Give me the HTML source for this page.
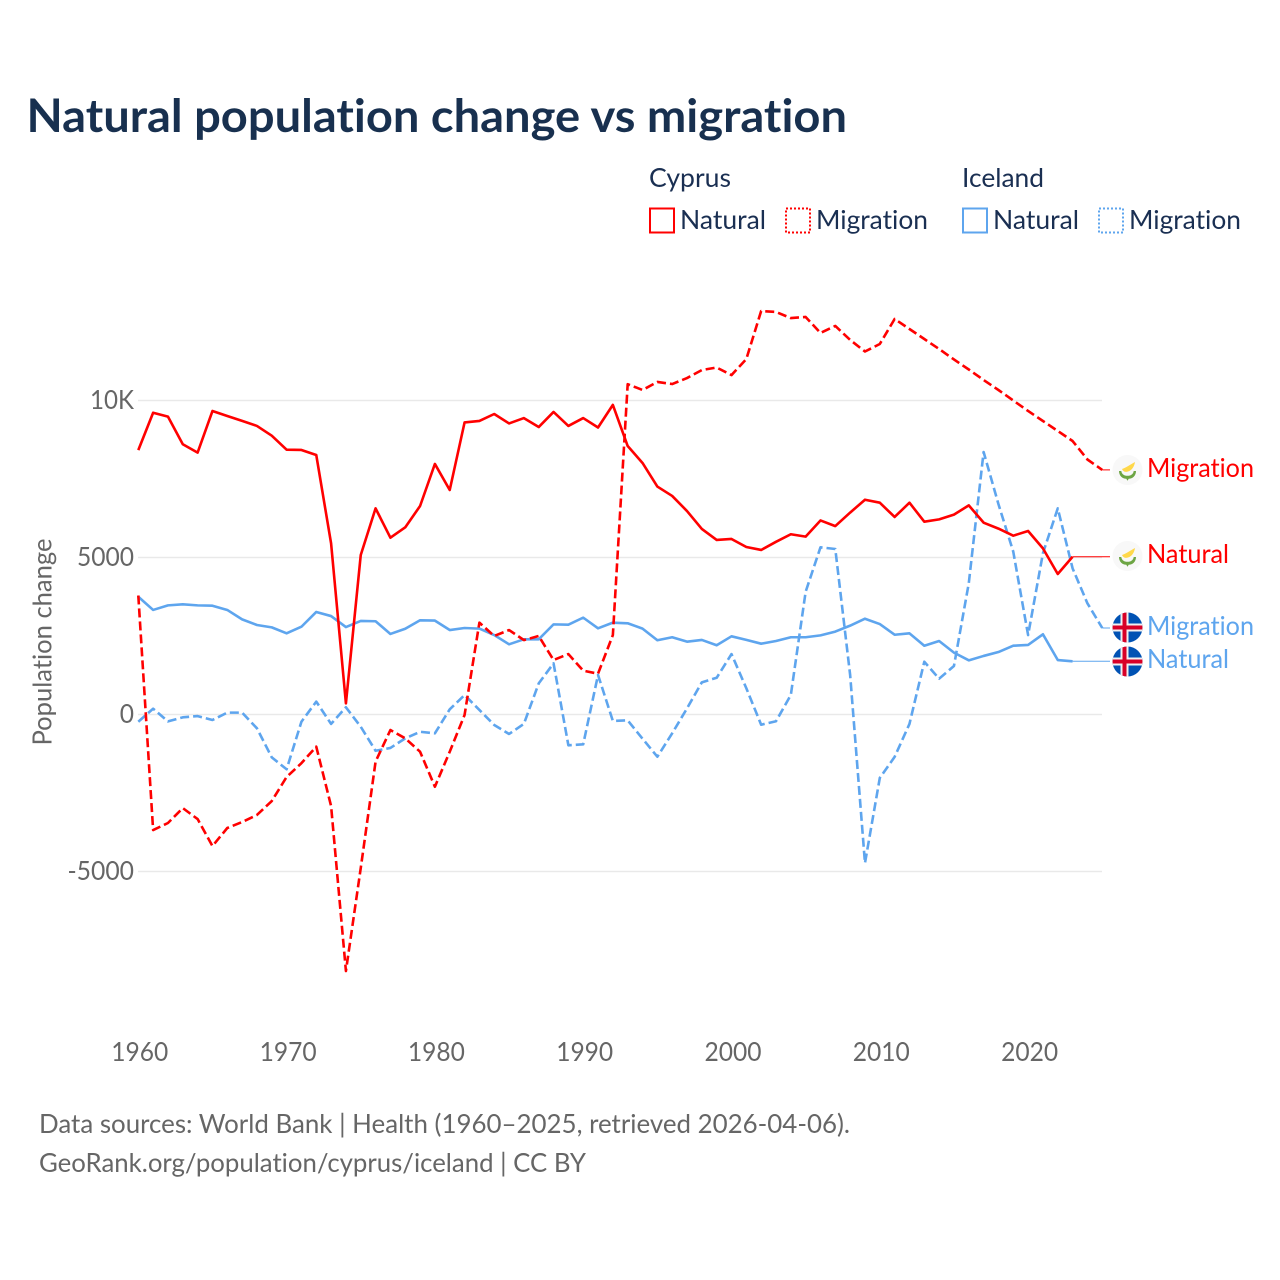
<!DOCTYPE html>
<html lang="en">
<head>
<meta charset="utf-8">
<title>Natural population change vs migration</title>
<style>
html,body{margin:0;padding:0;background:#fff}
svg{display:block}
text{font-family:"Lato","Carlito","Liberation Sans",sans-serif;font-variant-ligatures:none;font-feature-settings:"liga" 0,"clig" 0}
</style>
</head>
<body>
<svg id="chart" xmlns="http://www.w3.org/2000/svg" width="1280" height="1280" viewBox="0 0 1280 1280">
  <defs>
    <clipPath id="flag-clip"><circle cx="0" cy="0" r="15"/></clipPath>
    <g id="flag-cy">
      <circle r="15" fill="#f8f8f8"/>
      <path d="M-5.5 -1 C-2 -2 2 -5 7.5 -8 C7 -4 4.5 0.5 0.5 1.5 C-2 2.5 -4.5 1.5 -5.5 -1Z" fill="#ffd84a"/>
      <path d="M-8.5 1 C-8.5 6 -5 8.7 -1.2 8.7 L0 10.8 L1.2 8.7 C5 8.7 8.5 6 8.5 1 L6.2 1 C5.8 4 3.5 5.8 0 5.8 C-3.5 5.8 -5.8 4 -6.2 1Z" fill="#6da544"/>
    </g>
    <g id="flag-is">
      <g clip-path="url(#flag-clip)">
        <rect x="-15" y="-15" width="30" height="30" fill="#0052b4"/>
        <rect x="-15" y="-4" width="30" height="8" fill="#f0f0f0"/>
        <rect x="-7" y="-15" width="8" height="30" fill="#f0f0f0"/>
        <rect x="-15" y="-2" width="30" height="4" fill="#d80027"/>
        <rect x="-5" y="-15" width="4" height="30" fill="#d80027"/>
      </g>
    </g>
  </defs>

  <text x="26.5" y="132" font-size="46" font-weight="700" fill="#18304f" textLength="820.5" lengthAdjust="spacingAndGlyphs">Natural population change vs migration</text>

  <g font-size="26.5" fill="#1a2f52">
    <text x="649" y="187" textLength="82" lengthAdjust="spacingAndGlyphs">Cyprus</text>
    <text x="962" y="187" textLength="82" lengthAdjust="spacingAndGlyphs">Iceland</text>
    <rect x="650" y="208.5" width="24" height="24" fill="none" stroke="#ff0000" stroke-width="2"/>
    <text x="680" y="229" textLength="86" lengthAdjust="spacingAndGlyphs">Natural</text>
    <rect x="786" y="208.5" width="24" height="24" fill="none" stroke="#ff0000" stroke-width="2" stroke-dasharray="2 2"/>
    <text x="816" y="229" textLength="112" lengthAdjust="spacingAndGlyphs">Migration</text>
    <rect x="963" y="208.5" width="24" height="24" fill="none" stroke="#5ea5ee" stroke-width="2"/>
    <text x="993" y="229" textLength="86" lengthAdjust="spacingAndGlyphs">Natural</text>
    <rect x="1099" y="208.5" width="24" height="24" fill="none" stroke="#5ea5ee" stroke-width="2" stroke-dasharray="2 2"/>
    <text x="1129" y="229" textLength="112" lengthAdjust="spacingAndGlyphs">Migration</text>
  </g>

  <text transform="translate(51.5 642) rotate(-90)" text-anchor="middle" font-size="26.5" fill="#666666" textLength="207" lengthAdjust="spacingAndGlyphs">Population change</text>

  <g id="grid"></g>
  <g id="yticks"></g>
  <g id="xticks"></g>
  <g id="series"></g>

  <g id="end-labels" font-size="26.5">
    <use href="#flag-cy" x="1127.5" y="470"/>
    <text x="1147" y="477" fill="#ff0000" textLength="107" lengthAdjust="spacingAndGlyphs">Migration</text>
    <use href="#flag-cy" x="1127.5" y="556"/>
    <text x="1147" y="563" fill="#ff0000" textLength="82" lengthAdjust="spacingAndGlyphs">Natural</text>
    <use href="#flag-is" x="1127.5" y="627.5"/>
    <text x="1147" y="635" fill="#5ea5ee" textLength="107" lengthAdjust="spacingAndGlyphs">Migration</text>
    <use href="#flag-is" x="1127.5" y="661.5"/>
    <text x="1147" y="668" fill="#5ea5ee" textLength="82" lengthAdjust="spacingAndGlyphs">Natural</text>
  </g>

  <g font-size="26.5" fill="#666666">
    <text x="39" y="1133" textLength="811" lengthAdjust="spacingAndGlyphs">Data sources: World Bank | Health (1960–2025, retrieved 2026-04-06).</text>
    <text x="39" y="1172" textLength="547" lengthAdjust="spacingAndGlyphs">GeoRank.org/population/cyprus/iceland | CC BY</text>
  </g>
</svg>
<script>
const startYear = 1960;
const xTickYears = [1960, 1970, 1980, 1990, 2000, 2010, 2020];
const xTickLabels = ["1960", "1970", "1980", "1990", "2000", "2010", "2020"];
const yTickValues = [10000, 5000, 0, -5000];
const yTickLabels = ["10K", "5000", "0", "-5000"];

const cyprusNatural = [8420,9610,9485,8605,8340,9665,9505,9350,9190,8880,8435,8425,8265,5450,355,5080,6565,5630,5960,6640,7980,7150,9300,9350,9570,9270,9440,9155,9635,9190,9440,9140,9860,8550,8010,7260,6960,6480,5910,5560,5590,5335,5240,5500,5740,5665,6180,6000,6430,6840,6745,6290,6745,6140,6215,6365,6660,6110,5920,5695,5845,5290,4475,5025];
const cyprusMigration = [3790,-3680,-3455,-2980,-3330,-4190,-3615,-3425,-3200,-2755,-1990,-1550,-1025,-2915,-8170,-4890,-1500,-495,-760,-1185,-2300,-1185,-16,2925,2500,2690,2370,2500,1735,1925,1395,1300,2530,10520,10335,10590,10525,10715,10970,11050,10810,11320,12850,12820,12625,12660,12150,12375,11930,11560,11800,12595,12277,11959,11640,11306,10987,10653,10334,10000,9666,9347,9029,8710,8121,7790];
const icelandNatural = [3750,3330,3475,3510,3475,3465,3330,3030,2850,2775,2585,2795,3265,3135,2785,2980,2970,2565,2730,3000,2990,2690,2755,2735,2530,2235,2395,2395,2870,2860,3085,2745,2925,2905,2735,2365,2460,2320,2375,2205,2490,2375,2255,2340,2460,2460,2520,2640,2830,3050,2880,2540,2585,2190,2340,1970,1725,1865,1990,2190,2215,2555,1735,1695];
const icelandMigration = [-230,185,-220,-90,-50,-175,60,60,-440,-1365,-1745,-230,410,-300,230,-390,-1155,-1065,-760,-550,-600,165,620,145,-335,-620,-300,990,1630,-980,-950,1260,-205,-185,-770,-1345,-600,195,1025,1170,1925,835,-325,-215,620,3910,5325,5270,1260,-4730,-2020,-1350,-300,1680,1140,1545,4180,8360,6700,5185,2530,5135,6565,4655,3540,2755];

const NS = "http://www.w3.org/2000/svg";
const RED = "#ff0000";
const BLUE = "#5ea5ee";
const xScale = function (year) { return 138.3 + (year - startYear) * 14.83; };
const yScale = function (value) { return 714.5 - value * 0.0314; };
const labelWidth = function (label) {
  let w = 0;
  for (const c of label) { w += c === "K" ? 15.5 : c === "-" ? 9.5 : 14.25; }
  return w;
};

const grid = document.getElementById("grid");
const yticks = document.getElementById("yticks");
const xticks = document.getElementById("xticks");
const seriesGroup = document.getElementById("series");

yTickValues.forEach(function (value, i) {
  const line = document.createElementNS(NS, "line");
  
  
  line.setAttribute("x1", 138);
  line.setAttribute("x2", 1102);
  line.setAttribute("y1", yScale(value));
  line.setAttribute("y2", yScale(value));
  line.setAttribute("stroke", "#e9e9e9");
  line.setAttribute("stroke-width", "1.5");
  grid.appendChild(line);

  const text = document.createElementNS(NS, "text");
  
  
  text.setAttribute("x", 134);
  text.setAttribute("y", yScale(value) + 8.5);
  text.setAttribute("text-anchor", "end");
  text.setAttribute("font-size", "26.5");
  text.setAttribute("fill", "#666666");
  text.setAttribute("textLength", labelWidth(yTickLabels[i]));
  text.setAttribute("lengthAdjust", "spacingAndGlyphs");
  text.textContent = yTickLabels[i];
  yticks.appendChild(text);
});

xTickYears.forEach(function (year, i) {
  const text = document.createElementNS(NS, "text");
  
  
  text.setAttribute("x", xScale(year) + 1.5);
  text.setAttribute("y", 1061);
  text.setAttribute("text-anchor", "middle");
  text.setAttribute("font-size", "26.5");
  text.setAttribute("fill", "#666666");
  text.setAttribute("textLength", labelWidth(xTickLabels[i]));
  text.setAttribute("lengthAdjust", "spacingAndGlyphs");
  text.textContent = xTickLabels[i];
  xticks.appendChild(text);
});

function pointsFor(values) {
  return values.map(function (v, i) {
    return xScale(startYear + i).toFixed(2) + "," + yScale(v).toFixed(2);
  }).join(" ");
}

function drawConnector(values, color, name) {
  const lastIndex = values.length - 1;
  const line = document.createElementNS(NS, "line");
  
  
  line.setAttribute("x1", xScale(startYear + lastIndex));
  line.setAttribute("x2", 1110);
  line.setAttribute("y1", yScale(values[lastIndex]));
  line.setAttribute("y2", yScale(values[lastIndex]));
  line.setAttribute("stroke", color);
  line.setAttribute("stroke-width", "1");
  seriesGroup.appendChild(line);
}

function drawSeries(values, color, dash, name) {
  const poly = document.createElementNS(NS, "polyline");
  
  
  poly.setAttribute("points", pointsFor(values));
  poly.setAttribute("fill", "none");
  poly.setAttribute("stroke", color);
  poly.setAttribute("stroke-width", "2.6");
  poly.setAttribute("stroke-linejoin", "round");
  if (dash) { poly.setAttribute("stroke-dasharray", dash); }
  seriesGroup.appendChild(poly);
}

drawConnector(cyprusNatural, RED, "connector-cyprus-natural");
drawConnector(cyprusMigration, RED, "connector-cyprus-migration");
drawConnector(icelandNatural, BLUE, "connector-iceland-natural");
drawConnector(icelandMigration, BLUE, "connector-iceland-migration");
drawSeries(icelandNatural, BLUE, null, "line-iceland-natural");
drawSeries(icelandMigration, BLUE, "9 4", "line-iceland-migration");
drawSeries(cyprusMigration, RED, "9 4", "line-cyprus-migration");
drawSeries(cyprusNatural, RED, null, "line-cyprus-natural");
</script>
</body>
</html>
